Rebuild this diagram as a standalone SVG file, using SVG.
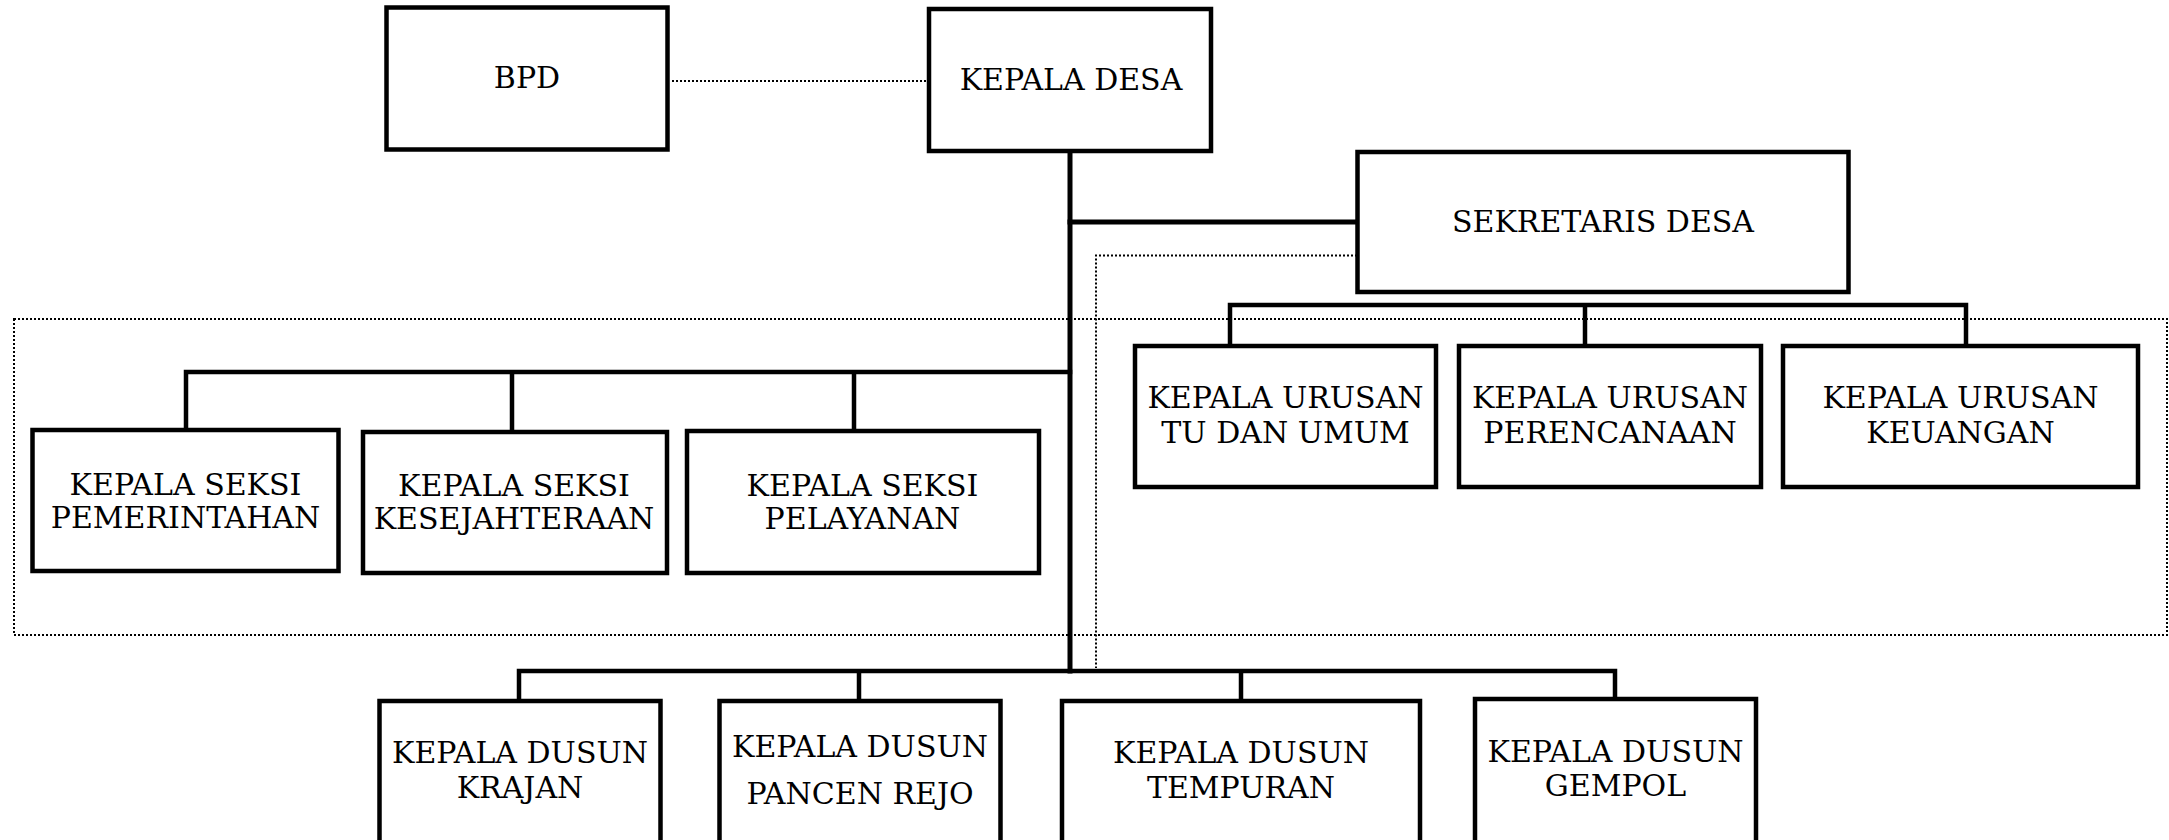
<svg xmlns="http://www.w3.org/2000/svg" width="2169" height="840" viewBox="0 0 2169 840">
<style>
.box{fill:#fff;stroke:#000;stroke-width:4.5}
.t{font-family:"DejaVu Serif","Liberation Serif",serif;font-size:30px;fill:#000;text-anchor:middle}
.ln{fill:none;stroke:#000;stroke-width:4.5;stroke-linecap:square}
.dot{fill:none;stroke:#000;stroke-width:2;stroke-dasharray:2 2}
</style>
<rect width="2169" height="840" fill="#fff"/>
<g id="groups">
<rect class="dot" x="14" y="319" width="2153" height="316"/>
<path class="dot" d="M1357,255.5 H1096 V668"/>
</g>
<g id="connectors">
<path class="dot" d="M672,81 H927"/>
<path class="ln" d="M1070,151 V671" style="stroke-width:5"/>
<path class="ln" d="M1070,222 H1356" style="stroke-width:5"/>
<path class="ln" d="M1070,372 H186 V430 M512,372 V430 M854,372 V430"/>
<path class="ln" d="M1230,345 V305 H1966 V345 M1585,305 V345"/>
<path class="ln" d="M519,700 V671 H1615 V698 M859,671 V700 M1241,671 V700"/>
</g>
<g id="bpd"><rect class="box" x="386.5" y="7.5" width="281" height="142"/><text class="t" x="527" y="88">BPD</text></g>
<g id="kepala-desa"><rect class="box" x="929" y="9" width="282" height="142"/><text class="t" x="1071" y="90">KEPALA DESA</text></g>
<g id="sekretaris-desa"><rect class="box" x="1357.5" y="152" width="491" height="140"/><text class="t" x="1603" y="232">SEKRETARIS DESA</text></g>
<g id="kaur-tu"><rect class="box" x="1135" y="346" width="301" height="141"/><text class="t" x="1285.5" y="408">KEPALA URUSAN</text><text class="t" x="1285.5" y="443">TU DAN UMUM</text></g>
<g id="kaur-perencanaan"><rect class="box" x="1459" y="346" width="302" height="141"/><text class="t" x="1610" y="408">KEPALA URUSAN</text><text class="t" x="1610" y="443">PERENCANAAN</text></g>
<g id="kaur-keuangan"><rect class="box" x="1783" y="346" width="355" height="141"/><text class="t" x="1960.5" y="408">KEPALA URUSAN</text><text class="t" x="1960.5" y="443">KEUANGAN</text></g>
<g id="kasi-pemerintahan"><rect class="box" x="32.5" y="430" width="306" height="141"/><text class="t" x="185.5" y="495">KEPALA SEKSI</text><text class="t" x="185.5" y="528">PEMERINTAHAN</text></g>
<g id="kasi-kesejahteraan"><rect class="box" x="363" y="432" width="304" height="141"/><text class="t" x="514" y="496">KEPALA SEKSI</text><text class="t" x="514" y="529">KESEJAHTERAAN</text></g>
<g id="kasi-pelayanan"><rect class="box" x="687" y="431" width="352" height="142"/><text class="t" x="862.5" y="496">KEPALA SEKSI</text><text class="t" x="862.5" y="529">PELAYANAN</text></g>
<g id="kadus-krajan"><rect class="box" x="379.5" y="701" width="281" height="150"/><text class="t" x="520" y="763">KEPALA DUSUN</text><text class="t" x="520" y="798">KRAJAN</text></g>
<g id="kadus-pancen-rejo"><rect class="box" x="719.5" y="701" width="281" height="150"/><text class="t" x="860" y="757">KEPALA DUSUN</text><text class="t" x="860" y="804">PANCEN REJO</text></g>
<g id="kadus-tempuran"><rect class="box" x="1062" y="701" width="358" height="150"/><text class="t" x="1241" y="763">KEPALA DUSUN</text><text class="t" x="1241" y="798">TEMPURAN</text></g>
<g id="kadus-gempol"><rect class="box" x="1475" y="699" width="281" height="152"/><text class="t" x="1615.5" y="762">KEPALA DUSUN</text><text class="t" x="1615.5" y="796">GEMPOL</text></g>
</svg>
